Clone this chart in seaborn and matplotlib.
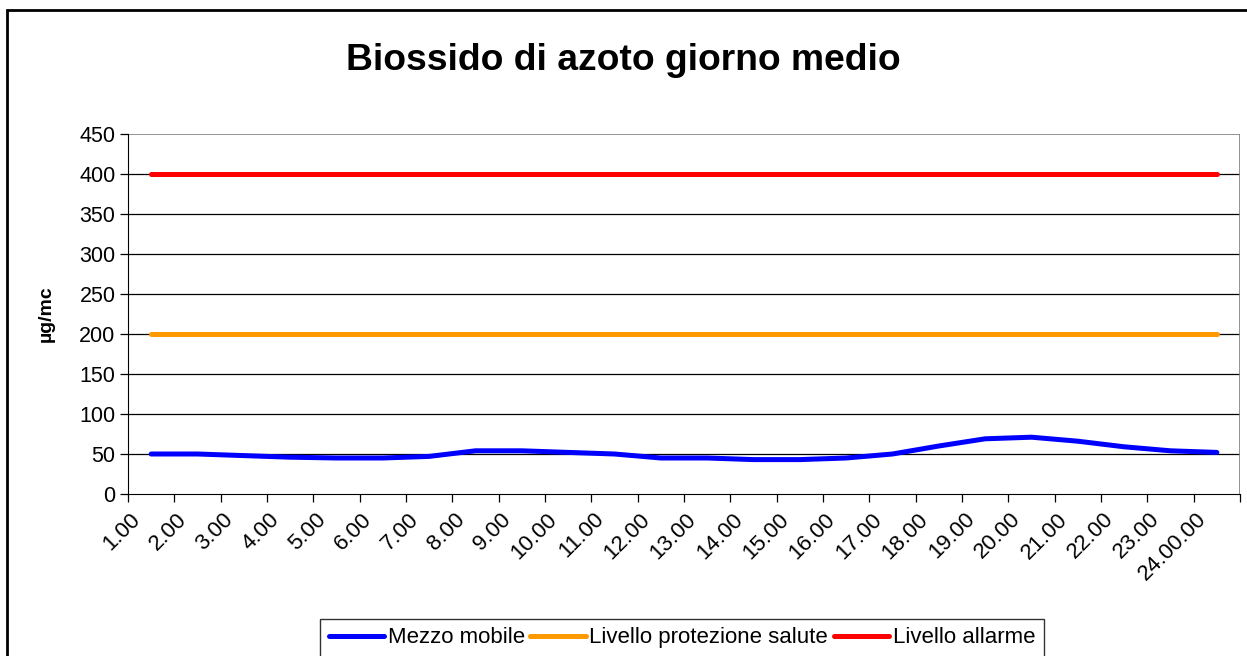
import numpy as np
import pandas as pd
import matplotlib
matplotlib.use("Agg")
import matplotlib.pyplot as plt
import seaborn as sns
from matplotlib.patches import Rectangle

# Data
ore = ["1.00", "2.00", "3.00", "4.00", "5.00", "6.00", "7.00", "8.00", "9.00", "10.00",
       "11.00", "12.00", "13.00", "14.00", "15.00", "16.00", "17.00", "18.00", "19.00",
       "20.00", "21.00", "22.00", "23.00", "24.00.00"]
mezzo_mobile = [50, 50, 48, 46, 45, 45, 47, 54, 54, 52, 50, 45, 45, 43, 43, 45, 50, 60, 69,
                71, 66, 59, 54, 52]
protezione_salute = [200] * 24
allarme = [400] * 24

df = pd.DataFrame({"ora": ore, "Mezzo mobile": mezzo_mobile,
                   "Livello protezione salute": protezione_salute,
                   "Livello allarme": allarme})

sns.set_style("white")
plt.rcParams['font.family'] = ['Liberation Sans', 'DejaVu Sans']
plt.rcParams['text.color'] = 'black'
plt.rcParams['xtick.color'] = 'black'
plt.rcParams['ytick.color'] = 'black'
plt.rcParams['axes.labelcolor'] = 'black'

fig = plt.figure(figsize=(12.47, 6.56), dpi=100)
ax = fig.add_axes([128 / 1247, 1 - 494 / 656, 1112 / 1247, 360 / 656])

colori = {"Mezzo mobile": "#0000ff", "Livello protezione salute": "#ff9900", "Livello allarme": "#ff0000"}
for serie, col in colori.items():
    sns.lineplot(data=df, x="ora", y=serie, ax=ax, color=col, lw=3.6, label=serie,
                 sort=False, solid_capstyle="round")

# gridlines
for v in range(50, 450, 50):
    ax.axhline(v, color="black", lw=0.9, zorder=0)
ax.axhline(450, color="#808080", lw=1.2, zorder=0)

ax.set_xlim(-0.5, 23.5)
ax.set_ylim(0, 450)
ax.set_yticks(range(0, 451, 50))
ax.tick_params(axis="y", labelsize=15.5, length=6, direction="out", left=True, width=0.9, pad=3)

pos = np.arange(len(ore))
ax.set_xticks(pos - 0.3)
ax.set_xticklabels(ore, rotation=45, ha="right", va="center", rotation_mode="anchor", fontsize=16)
ax.set_xticks(np.arange(-0.5, 24, 1), minor=True)
ax.tick_params(axis="x", which="major", length=0, pad=16)
ax.tick_params(axis="x", which="minor", length=6, direction="out", bottom=True, width=0.9)

for s in ["top", "right"]:
    ax.spines[s].set_visible(False)
ax.spines["left"].set_color("black")
ax.spines["bottom"].set_color("black")
ax.axvline(23.5, color="#808080", lw=1.2)

ax.set_xlabel("")
ax.set_ylabel("µg/mc", fontsize=14, fontweight="bold", labelpad=18)

fig.text(0.5, 1 - 60 / 656, "Biossido di azoto giorno medio", ha="center", va="center",
         fontsize=26.8, fontweight="bold")

ax.get_legend().remove()
handles, labels = ax.get_legend_handles_labels()
leg = fig.legend(handles, labels, loc="lower center", bbox_to_anchor=(682 / 1247, -8 / 656),
                 ncol=3, fontsize=16, frameon=True, fancybox=False, edgecolor="black",
                 handlelength=2.5, handletextpad=0.15, columnspacing=0.25, borderpad=0.4,
                 borderaxespad=0.3)
leg.get_frame().set_linewidth(1.0)

# outer chart frame
fig.patches.append(Rectangle((7 / 1247, -0.01), 1.05, 1 - 10 / 656 + 0.01,
                             transform=fig.transFigure, fill=False, edgecolor="black", lw=2))

fig.savefig("out.png", dpi=100)
